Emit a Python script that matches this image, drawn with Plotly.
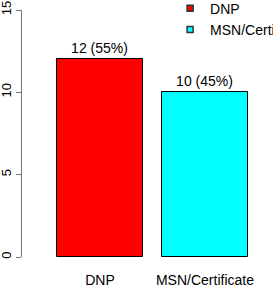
import plotly.graph_objects as go

categories = ["DNP", "MSN/Certificate"]
counts = [12, 10]
labels = ["12 (55%)", "10 (45%)"]
colors = ["#FF0000", "#00FFFF"]
ytick_vals = [0, 5, 10, 15]

FONT = "Liberation Sans, Arial, sans-serif"

fig = go.Figure()
fig.add_trace(go.Bar(
    x=list(range(len(categories))), y=counts,
    text=labels, textposition="outside", cliponaxis=False,
    textfont=dict(size=14, color="black", family=FONT),
    marker=dict(color=colors, line=dict(color="black", width=1)),
    width=0.82, showlegend=False,
))
for c, col in zip(categories, colors):
    fig.add_trace(go.Scatter(
        x=[None], y=[None], mode="markers", name=c,
        marker=dict(symbol="square", size=6, color=col, line=dict(color="#333", width=1.5)),
    ))

fig.update_layout(
    width=273, height=288,
    margin=dict(l=22, r=0, t=10, b=31, autoexpand=False),
    plot_bgcolor="white", paper_bgcolor="white",
    font=dict(family=FONT, size=14, color="black"),
    showlegend=True,
    legend=dict(x=0.59, y=1.07, xanchor="left", yanchor="top",
                bgcolor="rgba(0,0,0,0)", font=dict(size=14),
                tracegroupgap=0, itemwidth=30),
    xaxis=dict(range=[-0.743, 1.648], tickvals=list(range(len(categories))),
               ticktext=categories, showgrid=False, zeroline=False,
               showline=False, ticks="", tickfont=dict(size=14),
               ticklabelstandoff=13),
    yaxis=dict(range=[0, 15], tickvals=ytick_vals, showgrid=False, zeroline=False,
               showline=True, linecolor="#777", linewidth=1,
               ticks="outside", ticklen=5, tickcolor="#777",
               tickangle=-90, tickfont=dict(size=13), ticklabelstandoff=0),
    bargap=0,
)
fig.write_html("out.html")
